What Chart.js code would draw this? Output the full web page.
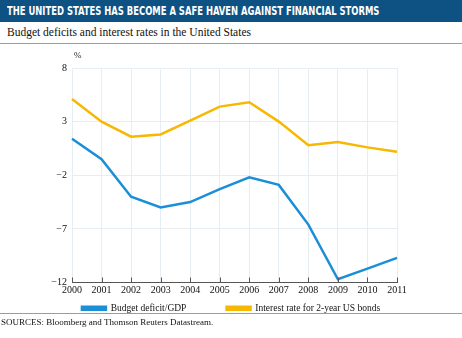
<!DOCTYPE html>
<html>
<head>
<meta charset="utf-8">
<script src="https://cdn.jsdelivr.net/npm/chart.js@4.4.0/dist/chart.umd.min.js"></script>
<style>
  html, body { margin: 0; padding: 0; background: #fff; }
  #page { position: relative; width: 462px; height: 338px; overflow: hidden; }
  #title {
    position: absolute; left: 0; top: 0; width: 462px; height: 22px;
    background: #0e5283;
  }
  #title span {
    position: absolute; left: 7px; top: 0; color: #fff;
    font: bold 12px "DejaVu Sans Condensed", "DejaVu Sans", sans-serif;
    line-height: 22px; white-space: nowrap;
    transform: scaleX(0.78); transform-origin: left center;
  }
  #subtitle {
    position: absolute; left: 7px; top: 26px;
    font: 11.5px "Liberation Serif", serif; color: #111; white-space: nowrap;
  }
  .rule { position: absolute; left: 0; width: 462px; height: 1px; background: #7ea4c2; }
  #pct { position: absolute; left: 74px; top: 50px; font: 9px "Liberation Serif", serif; color: #222; }
  #wrap { position: absolute; left: 0; top: 44px; width: 462px; height: 279px; }
  #sources {
    position: absolute; left: 1px; top: 317px;
    font: 9px "Liberation Serif", serif; color: #111; white-space: nowrap;
  }
</style>
</head>
<body>
<div id="page">
  <div id="title"><span>THE UNITED STATES HAS BECOME A SAFE HAVEN AGAINST FINANCIAL STORMS</span></div>
  <div id="subtitle">Budget deficits and interest rates in the United States</div>
  <div class="rule" style="top:43px"></div>
  <div id="wrap"><canvas id="chart" width="462" height="279"></canvas></div>
  <div id="pct">%</div>
  <div class="rule" style="top:313px"></div>
  <div id="sources">SOURCES: Bloomberg and Thomson Reuters Datastream.</div>
</div>
<script>
// years on the x axis
const years = ['2000', '2001', '2002', '2003', '2004', '2005', '2006', '2007', '2008', '2009', '2010', '2011'];

// budget deficit as % of GDP
const deficit = [1.4, -0.5, -4.0, -5.0, -4.5, -3.3, -2.2, -2.9, -6.6, -11.7, -10.7, -9.7];

// interest rate for 2-year US bonds, %
const bondRate = [5.1, 3.0, 1.6, 1.8, 3.1, 4.4, 4.8, 3.0, 0.8, 1.1, 0.6, 0.2];

// y tick positions
const yMin = -12, yMax = 8, yStep = 5;

const serif = '"Liberation Serif", serif';

// small upward tick marks on the x axis line
const upTicks = {
  id: 'upTicks',
  afterDraw(chart) {
    const x = chart.scales.x, ctx = chart.ctx;
    const bottom = chart.chartArea.bottom;
    ctx.save();
    ctx.strokeStyle = '#555';
    ctx.lineWidth = 1;
    x.ticks.forEach((t, i) => {
      const px = Math.round(x.getPixelForTick(i)) + 0.5;
      ctx.beginPath();
      ctx.moveTo(px, bottom);
      ctx.lineTo(px, bottom - 5);
      ctx.stroke();
    });
    ctx.restore();
  }
};

new Chart(document.getElementById('chart'), {
  type: 'line',
  data: {
    labels: years,
    datasets: [
      {
        label: 'Budget deficit/GDP',
        data: deficit,
        borderColor: '#1a8fd8',
        backgroundColor: '#1a8fd8',
        borderWidth: 2.5,
        pointRadius: 0,
        tension: 0
      },
      {
        label: 'Interest rate for 2-year US bonds',
        data: bondRate,
        borderColor: '#f6b800',
        backgroundColor: '#f6b800',
        borderWidth: 2.5,
        pointRadius: 0,
        tension: 0
      }
    ]
  },
  options: {
    responsive: false,
    animation: false,
    layout: { padding: { top: 24, right: 0, left: 0, bottom: 0 } },
    plugins: {
      legend: {
        position: 'bottom',
        labels: {
          font: { family: serif, size: 9.5 },
          color: '#111',
          boxWidth: 24,
          boxHeight: 3,
          padding: 5,
          // widen the gap between the two entries
          generateLabels(chart) {
            const items = Chart.defaults.plugins.legend.labels.generateLabels(chart);
            items[0].text += '\u2003\u2003\u2003\u2002\u2009';
            return items;
          }
        }
      },
      tooltip: { enabled: false }
    },
    scales: {
      x: {
        offset: false,
        grid: { color: '#e6edf3', drawTicks: false },
        border: { color: '#555', width: 1 },
        ticks: { font: { family: serif, size: 10 }, color: '#111', padding: 2, maxRotation: 0 }
      },
      y: {
        min: yMin,
        max: yMax,
        afterFit(scale) { scale.width = 72; },
        grid: { color: '#e6edf3', drawTicks: false },
        border: { display: false },
        ticks: {
          stepSize: yStep,
          font: { family: serif, size: 10 },
          color: '#111',
          padding: 5,
          callback: v => String(v).replace('-', '\u2212')
        }
      },
      // empty right-hand margin, keeps the legend centred on the whole canvas
      yRight: {
        position: 'right',
        min: yMin,
        max: yMax,
        afterFit(scale) { scale.width = 65; },
        grid: { display: false },
        border: { display: false },
        ticks: { display: false }
      }
    }
  },
  plugins: [upTicks]
});
</script>
</body>
</html>
